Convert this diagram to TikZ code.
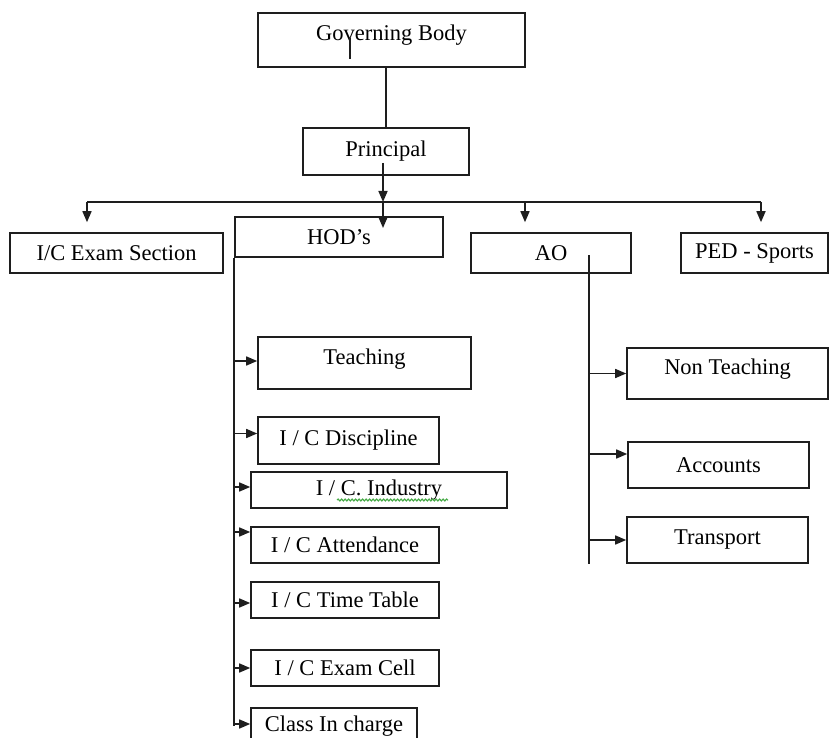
\documentclass[tikz,border=0pt]{standalone}
\usepackage{fontspec}
\setmainfont{Liberation Serif}
\usetikzlibrary{arrows.meta,calc,decorations.pathmorphing}
\definecolor{linegray}{RGB}{30,30,30}
\definecolor{spellgreen}{RGB}{70,170,70}

\begin{document}
\begin{tikzpicture}[x=1pt, y=-1pt, line width=1.6pt,
    box/.style={draw=linegray, rectangle, inner sep=0pt,
      font=\fontsize{22.5}{26}\selectfont},
    arr/.style={draw=linegray, -{Triangle[length=11pt,width=9pt]}}]
  \useasboundingbox (0,0) rectangle (830,738);
  \clip (0,0) rectangle (830,738);
  % Top of the chart
  \node[box, minimum width=267, minimum height=54, text depth=14pt] (gov) at (391.5,40) {Governing Body};
  \node[box, minimum width=166, minimum height=47] (prin) at (386,151.5) {Principal};
  % Second row
  \node[box, minimum width=213, minimum height=40] (exam) at (116.5,253) {I/C Exam Section};
  \node[box, minimum width=208, minimum height=40] (hod) at (339,237) {HOD’s};
  \node[box, minimum width=160, minimum height=40] (ao) at (551,253) {AO};
  \node[box, minimum width=147, minimum height=40] (ped) at (754.5,253) {PED - Sports};
  % Under HOD's
  \node[box, minimum width=213, minimum height=52, text depth=12pt] (teach) at (364.5,363) {Teaching};
  \node[box, minimum width=181, minimum height=47] (disc) at (348.5,440.5) {I / C Discipline};
  \node[box, minimum width=256, minimum height=36] (ind) at (379,490) {I / C. Industry};
  \node[box, minimum width=188, minimum height=36] (att) at (345,545) {I / C Attendance};
  \node[box, minimum width=188, minimum height=36] (tt) at (345,600) {I / C Time Table};
  \node[box, minimum width=188, minimum height=36] (cell) at (345,668) {I / C Exam Cell};
  \node[box, minimum width=166, minimum height=36] (cls) at (334,726) {Class In charge};
  % Under AO
  \node[box, minimum width=201, minimum height=51, text depth=14pt] (nont) at (727.5,373.5) {Non Teaching};
  \node[box, minimum width=181, minimum height=46] (acc) at (718.5,465) {Accounts};
  \node[box, minimum width=181, minimum height=46] (trans) at (717.5,540) {Transport};
  % Connectors
  \draw[linegray] (prin.north) -- (prin.north |- gov.south);
  \draw[linegray, line width=2.2pt] (350,38) -- (350,59);
  \coordinate (busL) at (87,202);
  \coordinate (busR) at (761,202);
  \coordinate (pdrop) at (383,163);
  \coordinate (hodin) at (383,228);
  \draw[linegray] (busL) -- (busR);
  \draw[arr, shorten >=10pt] (busL) -- (busL |- exam.north);
  \draw[arr, shorten >=10pt] (525,202) -- (525,202 |- ao.north);
  \draw[arr, shorten >=10pt] (busR) -- (busR |- ped.north);
  \draw[arr] (pdrop) -- (pdrop |- busL);
  \draw[arr] (pdrop |- busL) -- (hodin);
  % HOD's branches
  \draw[linegray] (hod.south west) -- (hod.south west |- cls.west);
  \foreach \n/\dy in {teach/-2,disc/-7,ind/-3,att/-13,tt/3,cell/0,cls/-2} {
    \coordinate (tip) at ($(\n.west)+(0,\dy)$);
    \draw[arr] (hod.south west |- tip) -- (tip);
  }
  % AO branches
  \coordinate (aotop) at (589,255);
  \draw[linegray] (aotop) -- (aotop |- trans.south);
  \foreach \n/\dy in {nont/0,acc/-11,trans/0} {
    \coordinate (tip) at ($(\n.west)+(0,\dy)$);
    \draw[arr] (aotop |- tip) -- (tip);
  }
  % spell-check underline
  \draw[spellgreen, line width=1.1pt, decorate,
    decoration={snake, amplitude=1pt, segment length=3.5pt}]
    ($(ind.center)+(-42,10)$) -- ($(ind.center)+(69,10)$);
\end{tikzpicture}
\end{document}
